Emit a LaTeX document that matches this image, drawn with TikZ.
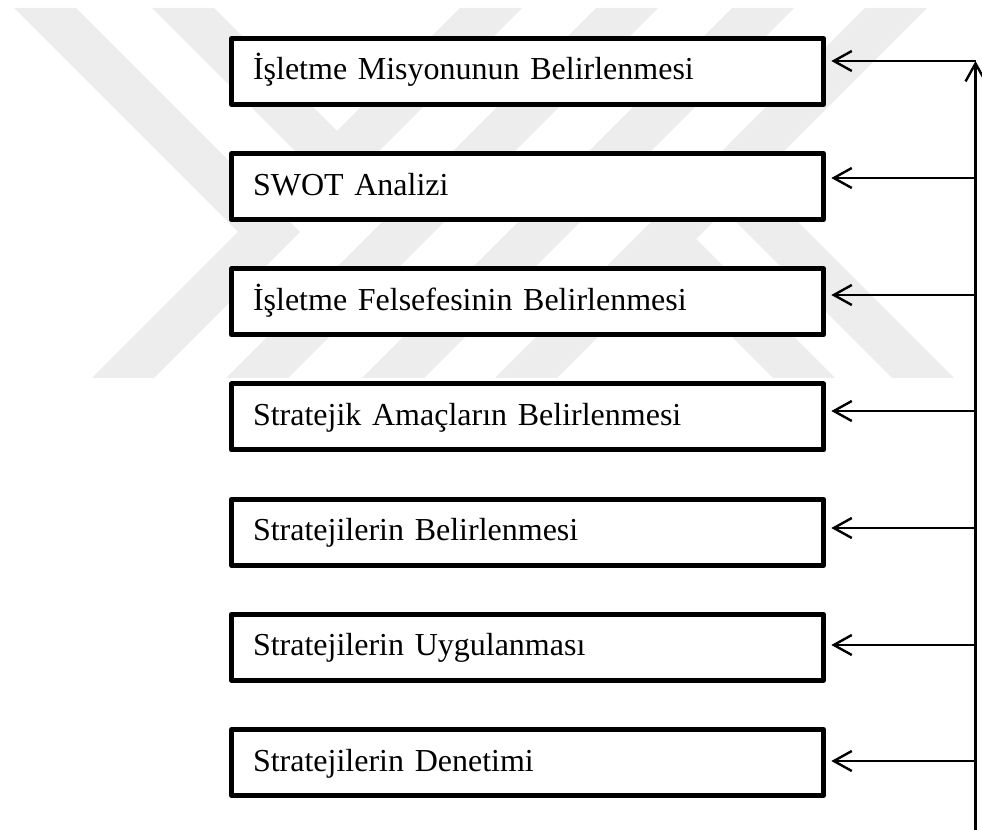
\documentclass[tikz,border=0pt]{standalone}
\usepackage{fontspec}
\setmainfont{Liberation Serif}
\usetikzlibrary{arrows.meta}
\definecolor{wmgray}{RGB}{237,237,237}
\begin{document}
\begin{tikzpicture}[x=0.75pt,y=-0.75pt,
  stepbox/.style={draw, line width=3.75pt, line join=round, fill=white,
    minimum width=444pt, minimum height=49.5pt,
    inner xsep=16.125pt, inner ysep=0pt, text width=411.75pt, align=left,
    text height=18pt, text depth=5.25pt,
    font=\fontsize{24pt}{28pt}\selectfont},
  barb/.style={-{Straight Barb[length=13.5pt,width=15pt]}},
  feed/.style={barb, line width=1.8pt, shorten >=4pt},
  trunk/.style={barb, line width=1.8pt},
  stripe/.style={fill=wmgray}]
\useasboundingbox (0,0) rectangle (982,830);

% background emblem made of diagonal stripes
\fill[stripe] (14,8) -- (76,8) -- (300,232) -- (154,378) -- (92,378) -- (238,232) -- cycle;
\fill[stripe] (152,8) -- (214,8) -- (337,131) -- (460,8) -- (522,8) -- (337,193) -- cycle;
\fill[stripe] (596,8) -- (658,8) -- (288,378) -- (226,378) -- cycle;
\fill[stripe] (732,8) -- (794,8) -- (424,378) -- (362,378) -- cycle;
\fill[stripe] (865,8) -- (927,8) -- (557,378) -- (495,378) -- cycle;
\fill[stripe] (773,378) -- (835,378) -- (680.5,223.5) -- (649.5,254.5) -- cycle;
\fill[stripe] (892,378) -- (954,378) -- (740,164) -- (709,195) -- cycle;

% process steps
\node[stepbox] (b1) at (527.5,71.5)  {İşletme Misyonunun Belirlenmesi};
\node[stepbox] (b2) at (527.5,186.7) {SWOT Analizi};
\node[stepbox] (b3) at (527.5,301.8) {İşletme Felsefesinin Belirlenmesi};
\node[stepbox] (b4) at (527.5,417.0) {Stratejik Amaçların Belirlenmesi};
\node[stepbox] (b5) at (527.5,532.2) {Stratejilerin Belirlenmesi};
\node[stepbox] (b6) at (527.5,647.3) {Stratejilerin Uygulanması};
\node[stepbox] (b7) at (527.5,762.5) {Stratejilerin Denetimi};

% feedback trunk on the right
\coordinate (base) at (975.5,830);
\coordinate (j1) at (975.5,61);
\coordinate (j2) at (975.5,178);
\coordinate (j3) at (975.5,295);
\coordinate (j4) at (975.5,411);
\coordinate (j5) at (975.5,528);
\coordinate (j6) at (975.5,645);
\coordinate (j7) at (975.5,761);

\draw[trunk] (base) -- (j1);
\foreach \k in {1,...,7}{
  \draw[feed] (j\k) -- (b\k.east |- j\k);
}
\end{tikzpicture}
\end{document}
